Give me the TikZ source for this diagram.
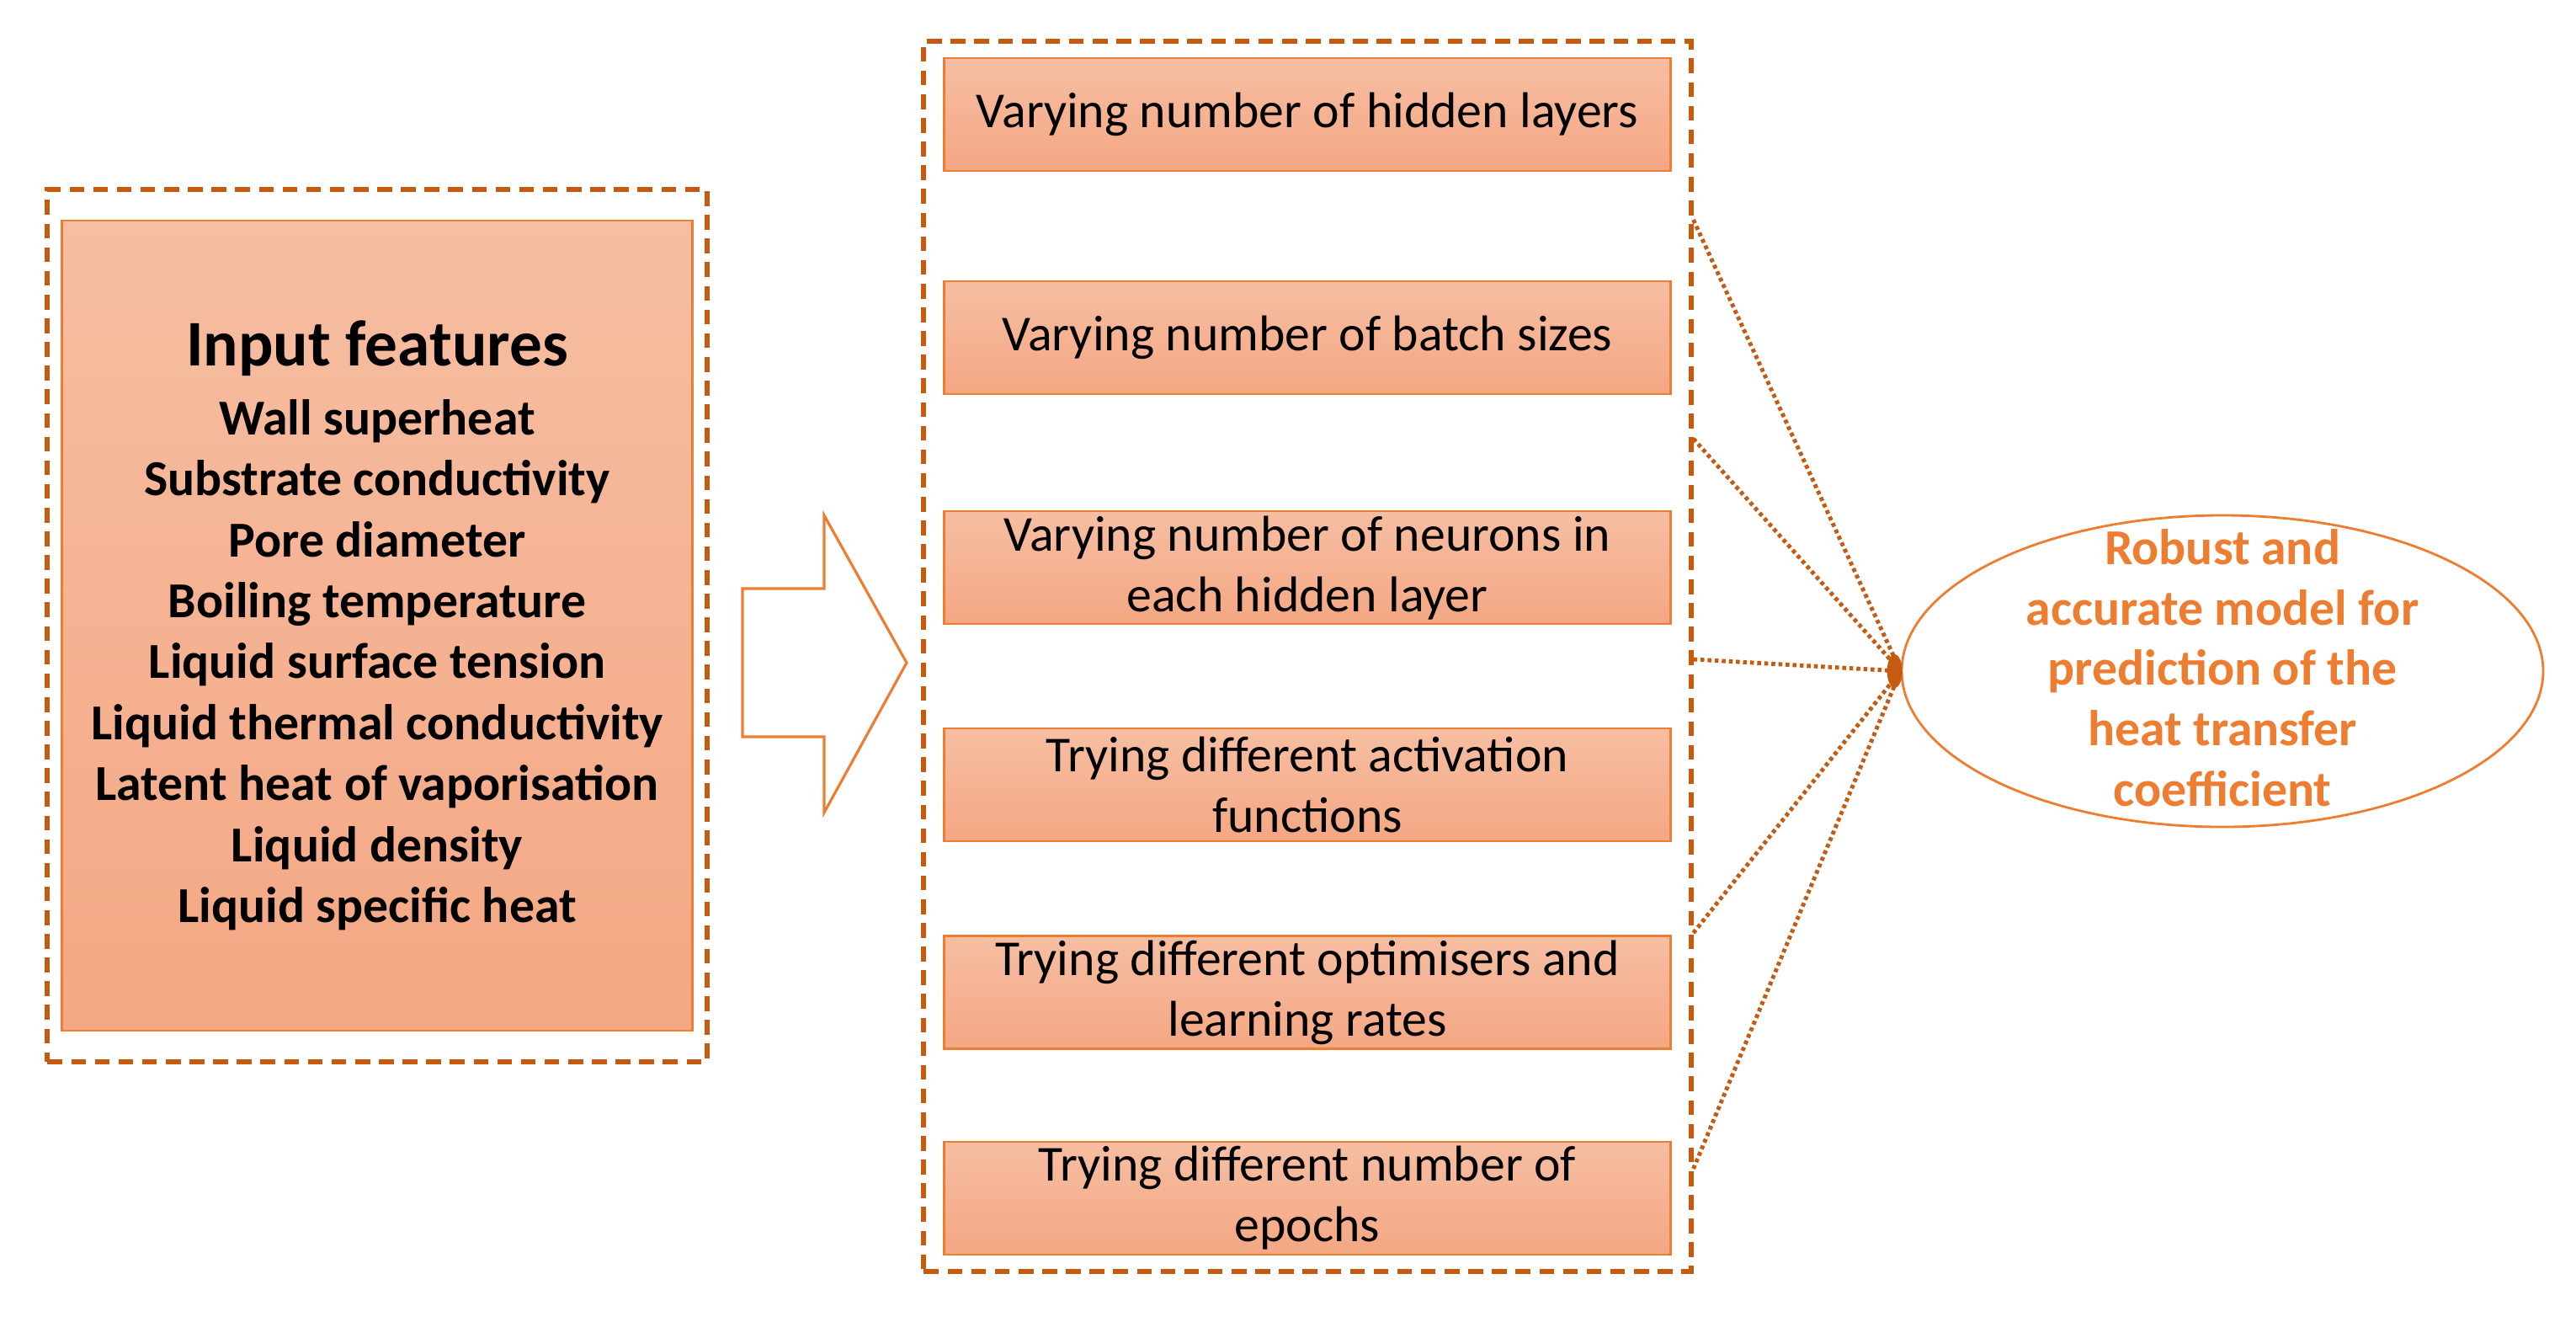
\documentclass[tikz,border=0pt]{standalone}
\usepackage{fontspec}
\setmainfont{Carlito}
\usetikzlibrary{shapes, arrows, positioning, fit}

\definecolor{darkorange}{HTML}{C55A11}
\definecolor{accent}{HTML}{ED7D31}
\definecolor{boxtop}{HTML}{F6BEA2}
\definecolor{boxbottom}{HTML}{F4A783}

\begin{document}
\begin{tikzpicture}[node distance=1.25cm,
    trial/.style={draw=accent, line width=0.6pt, top color=boxtop, bottom color=boxbottom, minimum width=8.63cm, minimum height=1.34cm, align=center, inner sep=0pt, font=\fontsize{17}{20.5}\selectfont},
    group/.style={draw=darkorange, line width=1.7pt, dash pattern=on 5pt off 3pt},
    link/.style={darkorange, line width=1.4pt, dash pattern=on 1.3pt off 1.1pt}]
        \useasboundingbox (0,0) rectangle (30.6,-15.69);

        % Draw the input block
        \node (features) [draw=accent, line width=0.6pt, top color=boxtop, bottom color=boxbottom, minimum width=7.49cm, minimum height=9.62cm, align=center, font=\bfseries\fontsize{17}{20.6}\selectfont] at (4.48,-7.43) {{\fontsize{22}{26}\selectfont Input features}\\[2.6pt] Wall superheat\\ Substrate conductivity\\ Pore diameter\\ Boiling temperature\\ Liquid surface tension\\ Liquid thermal conductivity\\ Latent heat of vaporisation\\ Liquid density\\ Liquid specific heat};
        \node (inputgroup) [group, fit=(features), inner xsep=0.16cm, inner ysep=0.36cm] {};

        % Draw the big arrow
        \draw [accent, line width=0.9pt] (8.82,-6.99) -- (9.79,-6.99) -- (9.79,-6.12) -- (10.77,-7.87) -- (9.79,-9.65) -- (9.79,-8.75) -- (8.82,-8.75) -- cycle;

        % Draw the trial blocks
        \node (hidden)     [trial] at (15.53,-1.36) {Varying number of hidden layers};
        \node (batch)      [trial, below=1.29cm of hidden] {Varying number of batch sizes};
        \node (neurons)    [trial, below=1.37cm of batch] {Varying number of neurons in\\ each hidden layer};
        \node (activation) [trial, below=1.22cm of neurons] {Trying different activation\\ functions};
        \node (optimiser)  [trial, below=1.10cm of activation] {Trying different optimisers and\\ learning rates};
        \node (epochs)     [trial, below=1.08cm of optimiser] {Trying different number of\\ epochs};
        \node (trials) [group, fit=(hidden)(epochs), inner xsep=0.23cm, inner ysep=0.19cm] {};

        % Draw the model
        \node (model) [ellipse, draw=accent, line width=0.8pt, minimum width=7.62cm, minimum height=3.70cm, inner sep=0pt] at (26.40,-7.97) {};
        \node (modeltext) [align=center, text=accent, font=\bfseries\fontsize{17}{20.4}\selectfont] at ([yshift=0.04cm]model) {Robust and\\ accurate model for\\ prediction of the\\ heat transfer\\ coefficient};

        % Draw the dotted links
        \foreach \y in {2.61,5.21,7.83,11.08,13.88}
            \draw [link] (trials.east |- 0,-\y) -- (model.west);
        \fill [darkorange] ([xshift=-0.07cm]model.west) ellipse (0.09cm and 0.2cm);
    \end{tikzpicture}
\end{document}
